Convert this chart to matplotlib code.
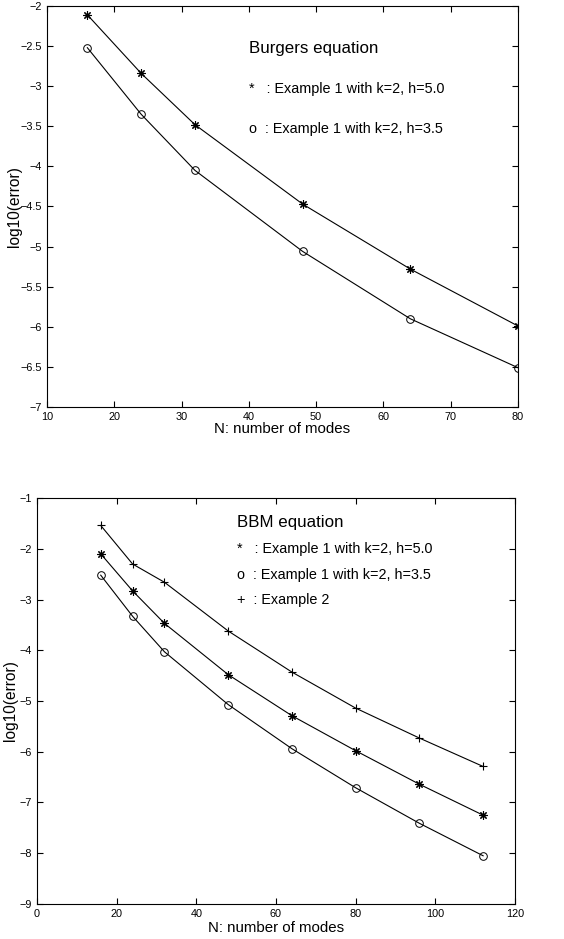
import matplotlib
matplotlib.use('Agg')
import matplotlib.pyplot as plt
from matplotlib.ticker import FuncFormatter

plt.rcParams.update({
    'font.family': ['Liberation Sans', 'DejaVu Sans'],
    'font.size': 8,
    'axes.linewidth': 0.8,
    'xtick.direction': 'in',
    'ytick.direction': 'in',
    'xtick.top': True,
    'ytick.right': True,
    'xtick.labelsize': 7.8,
    'ytick.labelsize': 7.8,
    'xtick.major.size': 4,
    'ytick.major.size': 4,
})

# Burgers equation data
n_burgers = [16, 24, 32, 48, 64, 80]
burgers_h50 = [-2.11, -2.84, -3.48, -4.47, -5.28, -5.99]
burgers_h35 = [-2.52, -3.35, -4.05, -5.06, -5.90, -6.51]

# BBM equation data
n_bbm = [16, 24, 32, 48, 64, 80, 96, 112]
bbm_h50 = [-2.10, -2.83, -3.47, -4.48, -5.29, -5.98, -6.64, -7.25]
bbm_h35 = [-2.52, -3.33, -4.03, -5.07, -5.94, -6.71, -7.41, -8.05]
bbm_ex2 = [-1.54, -2.30, -2.66, -3.62, -4.43, -5.14, -5.73, -6.29]

ASTERISK = (8, 2, 0)  # matlab-style '*'


def fmt(v, pos):
    s = ('%g' % v)
    return s.replace('-', '\u2212')


fig = plt.figure(figsize=(5.64, 9.39), dpi=100)

# ---- top panel: Burgers
ax1 = fig.add_axes([0.0833, 0.5666, 0.835, 0.427])
ax1.plot(n_burgers, burgers_h50, 'k-', lw=0.8, marker=ASTERISK, ms=6, mew=0.8)
ax1.plot(n_burgers, burgers_h35, 'k-', lw=0.8, marker='o', ms=5.5,
         mfc='none', mew=0.7)
ax1.set_xlim(10, 80)
ax1.set_ylim(-7, -2)
ax1.set_xticks(range(10, 81, 10))
ax1.set_yticks([-7, -6.5, -6, -5.5, -5, -4.5, -4, -3.5, -3, -2.5, -2])
ax1.yaxis.set_major_formatter(FuncFormatter(fmt))
ax1.xaxis.set_major_formatter(FuncFormatter(fmt))
ax1.set_xlabel('N: number of modes', fontsize=10.8, labelpad=0)
ax1.set_ylabel('log10(error)', fontsize=11.2)
ax1.yaxis.set_label_coords(-0.053, 0.5)
ax1.text(40, -2.53, 'Burgers equation', fontsize=12.2, va='center')
ax1.text(40, -3.03, '*   : Example 1 with k=2, h=5.0', fontsize=10.4, va='center')
ax1.text(40, -3.53, 'o  : Example 1 with k=2, h=3.5', fontsize=10.4, va='center')

# ---- bottom panel: BBM
ax2 = fig.add_axes([0.0656, 0.0373, 0.8475, 0.4323])
ax2.plot(n_bbm, bbm_ex2, 'k-', lw=0.8, marker='+', ms=6, mew=0.8)
ax2.plot(n_bbm, bbm_h50, 'k-', lw=0.8, marker=ASTERISK, ms=6, mew=0.8)
ax2.plot(n_bbm, bbm_h35, 'k-', lw=0.8, marker='o', ms=5.5,
         mfc='none', mew=0.7)
ax2.set_xlim(0, 120)
ax2.set_ylim(-9, -1)
ax2.set_xticks(range(0, 121, 20))
ax2.set_yticks(range(-9, 0))
ax2.yaxis.set_major_formatter(FuncFormatter(fmt))
ax2.xaxis.set_major_formatter(FuncFormatter(fmt))
ax2.set_xlabel('N: number of modes', fontsize=10.8, labelpad=1.5)
ax2.set_ylabel('log10(error)', fontsize=11.2)
ax2.yaxis.set_label_coords(-0.040, 0.5)
ax2.text(50.2, -1.49, 'BBM equation', fontsize=12.2, va='center')
ax2.text(50.2, -2.0, '*   : Example 1 with k=2, h=5.0', fontsize=10.4, va='center')
ax2.text(50.2, -2.52, 'o  : Example 1 with k=2, h=3.5', fontsize=10.4, va='center')
ax2.text(50.2, -3.01, '+  : Example 2', fontsize=10.4, va='center')

fig.savefig('out.png', dpi=100)
